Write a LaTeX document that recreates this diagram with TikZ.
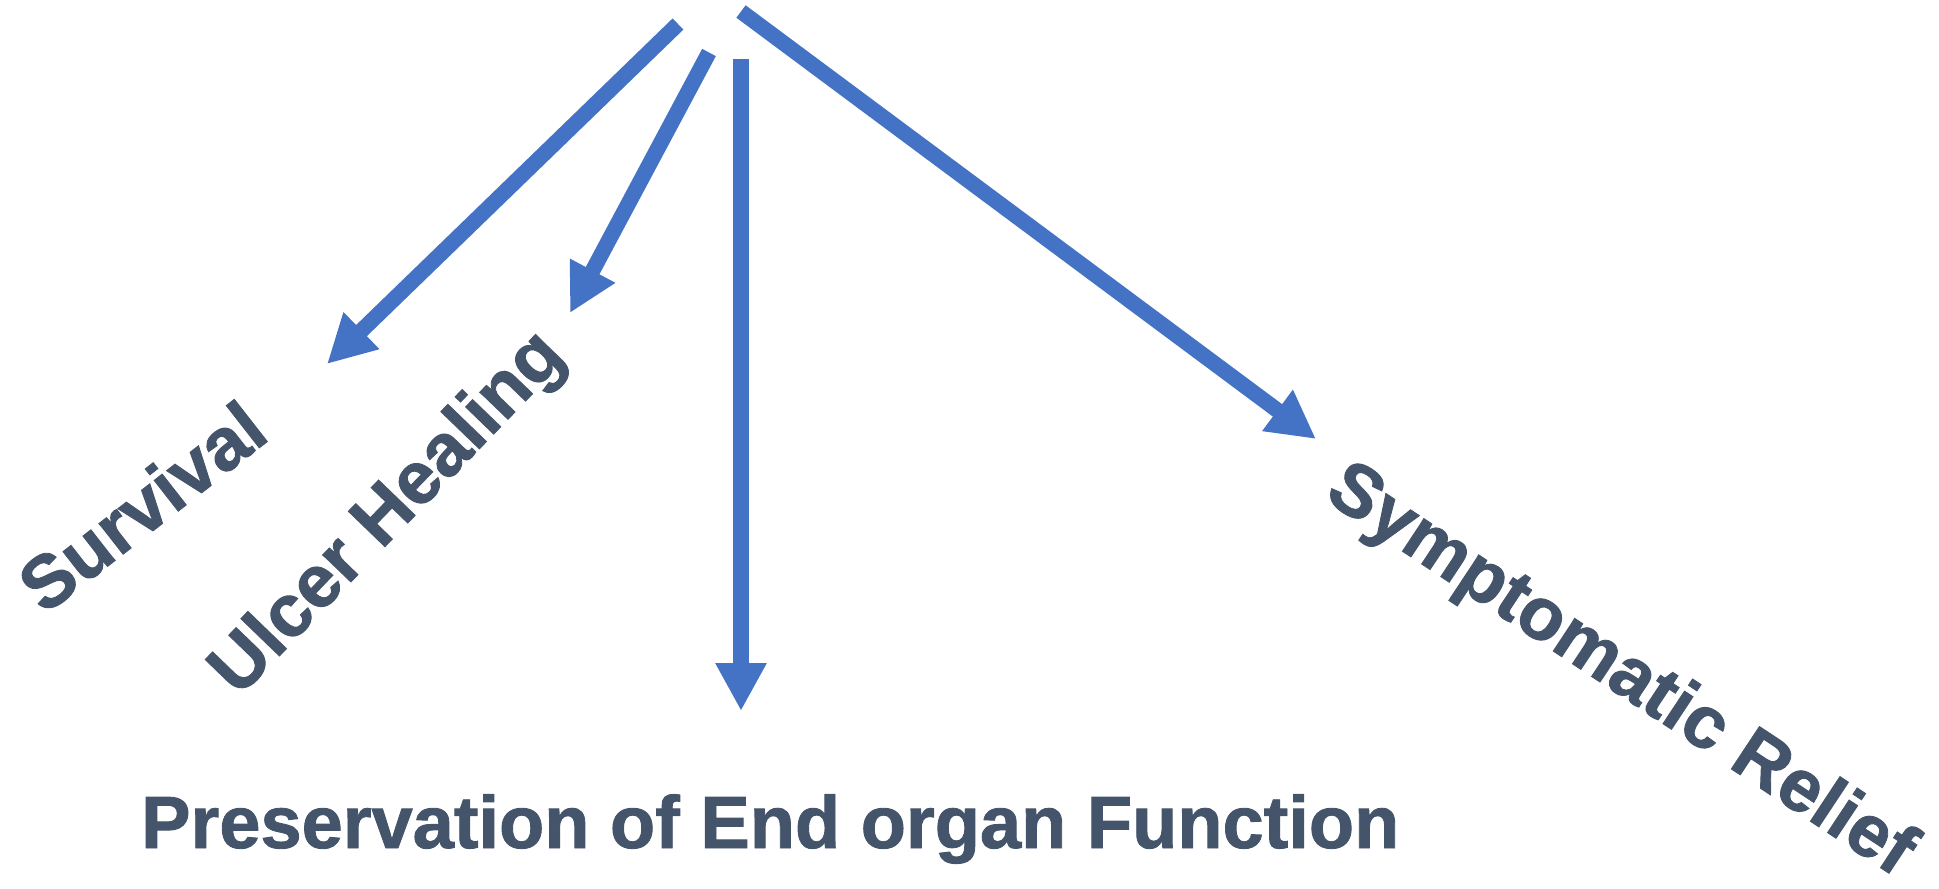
\documentclass[tikz,border=0pt]{standalone}
\usepackage{fontspec}
\setmainfont{Liberation Sans}[BoldFont={Liberation Sans Bold},BoldFeatures={FakeBold=1.2}]
\usetikzlibrary{arrows.meta}
\definecolor{arrowblue}{HTML}{4472C4}
\definecolor{labelgray}{HTML}{44546A}
\begin{document}
\begin{tikzpicture}[x=1pt,y=1pt,
  blockarrow/.style={draw=arrowblue, line width=15.5pt, -{Triangle[width=48pt,length=48pt]}},
  lbl/.style={inner sep=0pt, text=labelgray, font=\fontsize{74}{80}\selectfont\bfseries}]
\useasboundingbox (0,0) rectangle (1939,-889);
% labels
\node[lbl, rotate=38, anchor=base] (surv) at (158,-527) {Survival};
\node[lbl, rotate=46, anchor=base] (ulcer) at (403,-528) {Ulcer Healing};
\node[lbl, rotate=-33.5, anchor=base] (symp) at (1609,-688) {Symptomatic Relief};
\node[lbl, anchor=base west] (pres) at (141,-848) {Preservation of End organ Function};
% arrow ends
\coordinate (t1) at (678,-24);   \coordinate (h1) at (327,-364);
\coordinate (t2) at (709,-52.5); \coordinate (h2) at (570,-313);
\coordinate (t3) at (741,-59);   \coordinate (h3) at (741,-711);
\coordinate (t4) at (741,-11.5); \coordinate (h4) at (1316,-439);
\draw[blockarrow] (t1) -- (h1);
\draw[blockarrow] (t2) -- (h2);
\draw[blockarrow] (t3) -- (h3);
\draw[blockarrow] (t4) -- (h4);
\end{tikzpicture}
\end{document}
